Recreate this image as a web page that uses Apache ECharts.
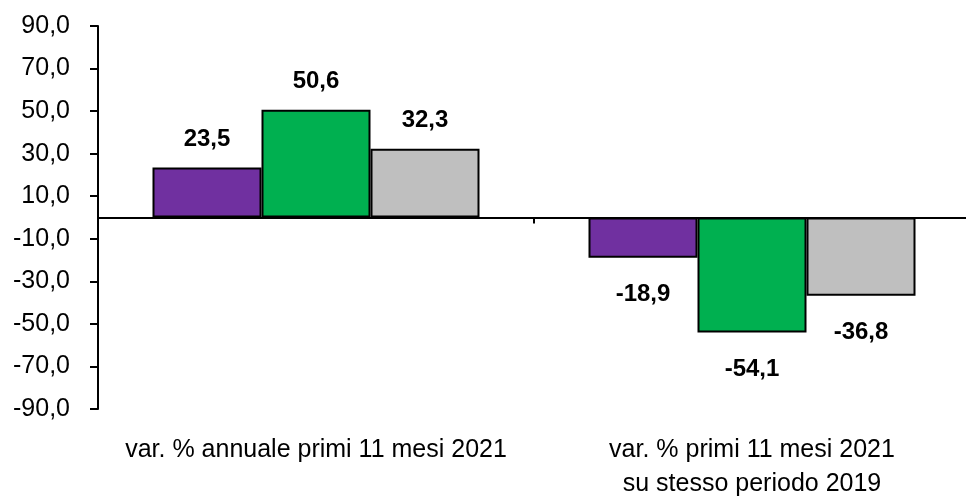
<!DOCTYPE html>
<html>
<head>
<meta charset="utf-8">
<script src="https://cdn.jsdelivr.net/npm/echarts@6/dist/echarts.min.js"></script>
<style>html,body{margin:0;padding:0;background:#fff;}#c{width:966px;height:497px;}</style>
</head>
<body>
<div id="c"></div>
<script>
var categories = ['var. % annuale primi 11 mesi 2021', 'var. % primi 11 mesi 2021\nsu stesso periodo 2019'];
var seriesPurple = [23.5, -18.9];
var seriesGreen = [50.6, -54.1];
var seriesGray = [32.3, -36.8];
var yTicks = [-90, -70, -50, -30, -10, 10, 30, 50, 70, 90];

var FONT = '"Liberation Sans", Arial, sans-serif';
function fmt(v) { return v.toFixed(1).replace('.', ','); }
function makeData(arr) {
  return arr.map(function (v) {
    return { value: v, label: { position: v >= 0 ? 'top' : 'bottom', distance: v >= 0 ? 16 : 25 } };
  });
}
function makeSeries(arr, color) {
  return {
    type: 'bar',
    xAxisIndex: 0,
    data: makeData(arr),
    barGap: '0%',
    barCategoryGap: '25%',
    itemStyle: { color: color, borderColor: '#000', borderWidth: 2 },
    label: {
      show: true,
      fontFamily: FONT,
      fontWeight: 'bold',
      fontSize: 24,
      color: '#000',
      formatter: function (p) { return fmt(p.value); }
    }
  };
}

var chart = echarts.init(document.getElementById('c'));
chart.setOption({
  animation: false,
  backgroundColor: '#fff',
  grid: { left: 98, right: -4, top: 26, bottom: 88, containLabel: false, outerBoundsMode: 'none' },
  xAxis: [
    {
      type: 'category',
      data: categories,
      axisLine: { onZero: true, lineStyle: { color: '#000', width: 2 } },
      axisTick: { show: true, length: 6, inside: false, lineStyle: { color: '#000', width: 2 } },
      axisLabel: { show: false }
    },
    {
      type: 'category',
      data: categories,
      position: 'bottom',
      axisLine: { show: false, onZero: false },
      axisTick: { show: false },
      axisLabel: {
        interval: 0,
        margin: 24,
        fontFamily: FONT,
        fontSize: 25,
        lineHeight: 34,
        color: '#000',
        align: 'center'
      }
    }
  ],
  yAxis: {
    type: 'value',
    min: -90,
    max: 90,
    splitLine: { show: false },
    axisLine: { show: true, lineStyle: { color: '#000', width: 2 } },
    axisTick: { show: true, length: 8, customValues: yTicks, lineStyle: { color: '#000', width: 2 } },
    axisLabel: {
      customValues: yTicks,
      margin: 28,
      fontFamily: FONT,
      fontSize: 25,
      color: '#000',
      formatter: function (v) { return fmt(v); }
    }
  },
  series: [
    makeSeries(seriesPurple, '#7030A0'),
    makeSeries(seriesGreen, '#00B050'),
    makeSeries(seriesGray, '#BFBFBF')
  ]
});
</script>
</body>
</html>
